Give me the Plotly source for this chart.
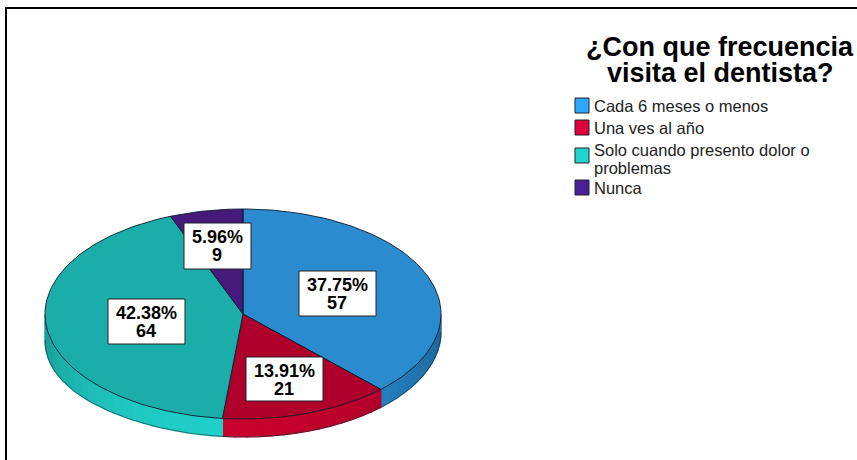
import math
import plotly.graph_objects as go

categories = ["Cada 6 meses o menos", "Una ves al año", "Solo cuando presento dolor o<br>problemas", "Nunca"]
counts = [57, 21, 64, 9]
percent_labels = ["37.75%", "13.91%", "42.38%", "5.96%"]
top_colors = ["#2a8ccf", "#ae002a", "#1badaa", "#451a7b"]
side_bright = ["#2a8fd8", "#c8002e", "#20cfc8", "#451a7b"]
legend_colors = ["#2ca6ff", "#e0003c", "#1fd5d0", "#4b1e9a"]
title_lines = ["¿Con que frecuencia", "visita el dentista?"]

CX, CY, RX, RY = 243, 314, 198, 105
FONT = "Liberation Sans, Arial, sans-serif"


def pt(t, dy=0.0):
    return CX + RX * math.sin(t), CY - RY * math.cos(t) + dy


def depth(t):
    return 18 + 8 * max(0.0, -math.sin(t)) ** 4


def shade(hex_color, f):
    r, g, b = (int(hex_color[i:i + 2], 16) for i in (1, 3, 5))
    return f"rgb({r * f:.0f},{g * f:.0f},{b * f:.0f})"


total = sum(counts)
fig = go.Figure()
edges = [0.0]
for c in counts:
    edges.append(edges[-1] + c / total * 2 * math.pi)

# side wall, in short shaded strips along the visible (front) half of the rim
for i in range(len(counts)):
    a, b = max(edges[i], math.pi / 2), min(edges[i + 1], 3 * math.pi / 2)
    if b <= a:
        continue
    n = max(1, int((b - a) / 0.06))
    for k in range(n):
        t0 = a + (b - a) * k / n
        t1 = a + (b - a) * (k + 1) / n
        mid = (t0 + t1) / 2
        f = 0.72 + 0.28 * max(0.0, -math.cos(mid - 0.12)) ** 1.2
        pts = [pt(t0), pt(t1), pt(t1, depth(t1)), pt(t0, depth(t0)), pt(t0)]
        col = shade(side_bright[i], f)
        fig.add_trace(go.Scatter(
            x=[p[0] for p in pts], y=[p[1] for p in pts], mode="lines", fill="toself",
            fillcolor=col, line=dict(color=col, width=1.2), hoverinfo="skip", showlegend=False))

# lower rim outline
rim_t = [math.pi / 2 + math.pi * k / 120 for k in range(121)]
rim = [pt(t, depth(t)) for t in rim_t]
fig.add_trace(go.Scatter(x=[p[0] for p in rim], y=[p[1] for p in rim], mode="lines",
                         line=dict(color="#10303a", width=0.6), hoverinfo="skip", showlegend=False))

# top face
for i, name in enumerate(categories):
    steps = max(2, int((edges[i + 1] - edges[i]) / 0.02))
    arc = [pt(edges[i] + (edges[i + 1] - edges[i]) * k / steps) for k in range(steps + 1)]
    pts = [(CX, CY)] + arc + [(CX, CY)]
    fig.add_trace(go.Scatter(
        x=[p[0] for p in pts], y=[p[1] for p in pts], mode="lines", fill="toself",
        fillcolor=top_colors[i], line=dict(color="#0b1a2a", width=0.9), name=name.replace("<br>", " "),
        text=f"{percent_labels[i]} ({counts[i]})", hoverinfo="name+text", showlegend=False))

shapes = [
    dict(type="line", xref="x", yref="y", x0=6, x1=6, y0=8, y1=460, line=dict(color="#000", width=2)),
    dict(type="line", xref="x", yref="y", x0=5, x1=857, y0=8, y1=8, line=dict(color="#000", width=2)),
]
annotations = []

# value boxes
box_left = [299, 246, 108, 184]
box_top = [271, 357, 299, 223]
box_w = [77, 77, 77, 67]
box_h = [45, 44, 45, 46]
for i in range(4):
    x0, y0, w, h = box_left[i], box_top[i], box_w[i], box_h[i]
    shapes.append(dict(type="rect", xref="x", yref="y", x0=x0, x1=x0 + w, y0=y0, y1=y0 + h,
                       fillcolor="#fff", line=dict(color="#222", width=1), layer="above"))
    for text, dy in ((percent_labels[i], 13.5), (str(counts[i]), 32)):
        annotations.append(dict(x=x0 + w / 2 - 0.5, y=y0 + dy, xref="x", yref="y", text=f"<b>{text}</b>",
                                showarrow=False, font=dict(family=FONT, size=18, color="#000"),
                                xanchor="center", yanchor="middle"))

# title
for text, y in zip(title_lines, (47, 73)):
    annotations.append(dict(x=720, y=y, xref="x", yref="y", text=f"<b>{text}</b>", showarrow=False,
                            font=dict(family=FONT, size=27, color="#000"), xanchor="center", yanchor="middle"))

# legend
legend_y = [106, 128, 156, 188]
for i, name in enumerate(categories):
    y = legend_y[i]
    shapes.append(dict(type="rect", xref="x", yref="y", x0=575, x1=589, y0=y - 8, y1=y + 7,
                       fillcolor=legend_colors[i], line=dict(color="#222", width=1)))
    lines = name.split("<br>")
    for j, line in enumerate(lines):
        annotations.append(dict(x=592, y=y - 6 * (len(lines) - 1) + 18 * j, xref="x", yref="y", text=line,
                                showarrow=False, align="left",
                                font=dict(family=FONT, size=16.5, color="#222"),
                                xanchor="left", yanchor="middle"))

fig.update_layout(
    width=857, height=460, margin=dict(l=0, r=0, t=0, b=0), autosize=False,
    paper_bgcolor="#fff", plot_bgcolor="#fff", showlegend=False,
    xaxis=dict(range=[0, 857], visible=False, fixedrange=True),
    yaxis=dict(range=[460, 0], visible=False, fixedrange=True),
    shapes=shapes, annotations=annotations,
)
fig.write_html("out.html", config=dict(displayModeBar=False),
               post_script="document.body.style.margin='0';document.body.style.overflow='hidden';")
